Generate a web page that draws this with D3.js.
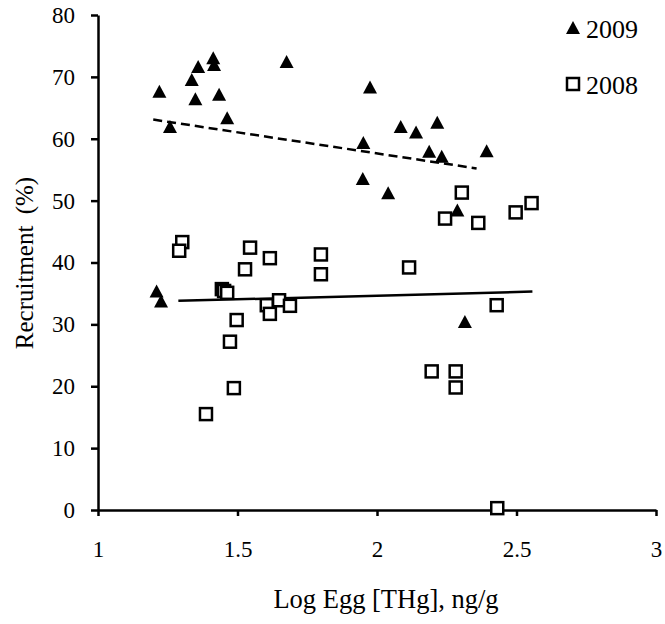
<!DOCTYPE html>
<html>
<head>
<meta charset="utf-8">
<script src="https://cdn.jsdelivr.net/npm/d3@7"></script>
<style>
  body { margin: 0; background: #fff; }
  text { font-family: "Liberation Serif", "Times New Roman", serif; fill: #000; }
</style>
</head>
<body>
<div id="chart"></div>
<script>
// 2009 (triangles)
var x2009 = [1.220, 1.258, 1.336, 1.349, 1.359, 1.413, 1.416, 1.434, 1.463, 1.676,
             1.975, 1.951, 1.949, 2.040, 2.085, 2.140, 2.216, 2.187, 2.232, 2.393,
             2.288, 2.315, 1.210, 1.226];
var y2009 = [67.6, 61.9, 69.5, 66.4, 71.6, 73.0, 71.9, 67.1, 63.3, 72.4,
             68.3, 59.3, 53.5, 51.2, 61.9, 61.0, 62.6, 57.9, 57.1, 58.0,
             48.4, 30.4, 35.3, 33.7];

// 2008 (open squares)
var x2008 = [1.302, 1.291, 1.545, 1.616, 1.799, 1.799, 1.527, 1.444, 1.452, 1.463,
             1.605, 1.649, 1.688, 1.616, 1.497, 1.473, 1.487, 1.387, 2.244, 2.363,
             2.497, 2.554, 2.304, 2.115, 2.429, 2.196, 2.282, 2.282, 2.431];
var y2008 = [43.3, 41.9, 42.4, 40.7, 41.3, 38.1, 38.9, 35.7, 35.4, 35.1,
             33.1, 33.9, 33.0, 31.7, 30.7, 27.2, 19.7, 15.5, 47.1, 46.4,
             48.1, 49.6, 51.3, 39.2, 33.1, 22.4, 22.4, 19.8, 0.3];

// trend lines (end points)
var trendX2009 = [1.198, 2.357], trendY2009 = [63.1, 55.2];
var trendX2008 = [1.288, 2.557], trendY2008 = [33.8, 35.3];

var xTicks = [1, 1.5, 2, 2.5, 3];
var yTicks = [0, 10, 20, 30, 40, 50, 60, 70, 80];

var width = 665, height = 624;
var margin = {top: 15, right: 9, bottom: 114, left: 98};

var x = d3.scaleLinear().domain([1, 3]).range([margin.left, width - margin.right]);
var y = d3.scaleLinear().domain([0, 80]).range([height - margin.bottom, margin.top]);

var svg = d3.select("#chart").append("svg")
            .attr("width", width)
            .attr("height", height);

function styleAxis(g) {
    g.select(".domain").attr("stroke", "#000").attr("stroke-width", 2.5);
    g.selectAll(".tick line").attr("stroke", "#000").attr("stroke-width", 2.5);
    g.selectAll(".tick text").style("font-size", "23px")
     .style("font-family", "'Liberation Serif', serif");
}

svg.append("g")
   .attr("transform", "translate(0," + y(0) + ")")
   .call(d3.axisBottom(x).tickValues(xTicks).tickFormat(d3.format("")).tickSize(6).tickSizeOuter(0).tickPadding(25))
   .call(styleAxis);

svg.append("g")
   .attr("transform", "translate(" + x(1) + ",0)")
   .call(d3.axisLeft(y).tickValues(yTicks).tickSize(7).tickSizeOuter(0).tickPadding(16))
   .call(styleAxis);

// trend lines
var line = d3.line().x(d => x(d[0])).y(d => y(d[1]));

svg.append("path")
   .datum(d3.zip(trendX2009, trendY2009))
   .attr("d", line)
   .attr("fill", "none")
   .attr("stroke", "#000")
   .attr("stroke-width", 2.5)
   .attr("stroke-dasharray", "9,5");

svg.append("path")
   .datum(d3.zip(trendX2008, trendY2008))
   .attr("d", line)
   .attr("fill", "none")
   .attr("stroke", "#000")
   .attr("stroke-width", 2.5);

var tri = "M0,-7L7,6L-7,6Z";

svg.append("g").selectAll("rect")
   .data(d3.zip(x2008, y2008))
   .enter().append("rect")
   .attr("x", d => x(d[0]) - 6)
   .attr("y", d => y(d[1]) - 6)
   .attr("width", 12)
   .attr("height", 12)
   .attr("fill", "#fff")
   .attr("stroke", "#000")
   .attr("stroke-width", 2.5);

svg.append("g").selectAll("path")
   .data(d3.zip(x2009, y2009))
   .enter().append("path")
   .attr("d", tri)
   .attr("transform", d => "translate(" + x(d[0]) + "," + y(d[1]) + ")")
   .attr("fill", "#000");

// legend
var legend = svg.append("g");
legend.append("path")
      .attr("d", tri)
      .attr("transform", "translate(573,28)")
      .attr("fill", "#000");
legend.append("text")
      .attr("x", 586).attr("y", 38)
      .style("font-size", "26px")
      .text("2009");
legend.append("rect")
      .attr("x", 567).attr("y", 78)
      .attr("width", 12).attr("height", 12)
      .attr("fill", "#fff").attr("stroke", "#000").attr("stroke-width", 2.5);
legend.append("text")
      .attr("x", 586).attr("y", 94)
      .style("font-size", "26px")
      .text("2008");

// axis titles
svg.append("text")
   .attr("x", 386).attr("y", 608)
   .attr("text-anchor", "middle")
   .style("font-size", "26.5px")
   .text("Log Egg [THg], ng/g");

svg.append("text")
   .attr("transform", "translate(33," + 263 + ") rotate(-90)")
   .attr("text-anchor", "middle")
   .style("font-size", "25px")
   .style("word-spacing", "5px")
   .text("Recruitment (%)");
</script>
</body>
</html>
